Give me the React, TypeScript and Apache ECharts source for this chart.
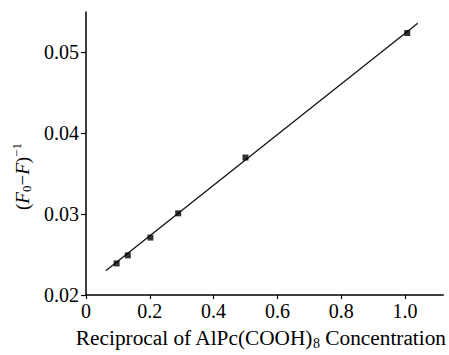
import React, { useEffect, useRef } from "react";
import * as echarts from "echarts";

const xData = [0.096, 0.131, 0.202, 0.289, 0.5, 1.007];
const yData = [0.0239, 0.0249, 0.0271, 0.0301, 0.037, 0.0524];
const fitX = [0.062, 1.04];
const fitY = [0.023, 0.0536];

export default function App() {
  const ref = useRef<HTMLDivElement>(null);
  useEffect(() => {
    const chart = echarts.init(ref.current!, null, { renderer: "svg" });
    const font = "Liberation Serif";
    chart.setOption({
      animation: false,
      grid: { left: 86, top: 12, right: 3, bottom: 52 },
      xAxis: {
        type: "value",
        min: 0,
        max: 1.12,
        interval: 0.2,
        name: "Reciprocal of AlPc(COOH){sub|8} Concentration",
        nameLocation: "middle",
        nameGap: 31,
        nameTextStyle: {
          color: "#000",
          fontFamily: font,
          fontSize: 21.3,
          padding: [0, 8, 0, 0],
          rich: {
            sub: { fontFamily: font, fontSize: 14, color: "#000", padding: [10, 0, 0, 0] },
          },
        },
        axisLine: { lineStyle: { color: "#000", width: 1.5 } },
        axisTick: { length: 4, lineStyle: { color: "#000", width: 1.2 } },
        splitLine: { show: false },
        axisLabel: {
          color: "#000",
          fontFamily: font,
          fontSize: 20,
          margin: 6,
          showMaxLabel: false,
          formatter: (v: number) => (v === 0 ? "0" : v.toFixed(1)),
        },
      },
      yAxis: {
        type: "value",
        min: 0.02,
        max: 0.055,
        interval: 0.01,
        name: "({it|F}{sub|0}−{it|F}){sup|−1}",
        nameLocation: "middle",
        nameRotate: 90,
        nameGap: 50,
        nameTextStyle: {
          color: "#000",
          fontFamily: font,
          fontSize: 19,
          padding: [0, 46, 0, 0],
          rich: {
            it: { fontFamily: font, fontStyle: "italic", fontSize: 19, color: "#000" },
            sub: { fontFamily: font, fontSize: 13, color: "#000", padding: [9, 0, 0, 0] },
            sup: { fontFamily: font, fontSize: 13, color: "#000", padding: [0, 0, 11, 0] },
          },
        },
        axisLine: { show: true, lineStyle: { color: "#000", width: 1.5 } },
        axisTick: { show: true, length: 5, lineStyle: { color: "#000", width: 1.2 } },
        splitLine: { show: false },
        axisLabel: {
          color: "#000",
          fontFamily: font,
          fontSize: 20,
          margin: 7,
          showMaxLabel: false,
          formatter: (v: number) => v.toFixed(2),
        },
      },
      series: [
        {
          type: "line",
          data: fitX.map((x, i) => [x, fitY[i]]),
          showSymbol: false,
          lineStyle: { color: "#111", width: 1.3 },
          z: 2,
        },
        {
          type: "scatter",
          data: xData.map((x, i) => [x, yData[i]]),
          symbol: "rect",
          symbolSize: 6,
          itemStyle: { color: "#000" },
          z: 3,
        },
      ],
    });
    return () => chart.dispose();
  }, []);
  return <div ref={ref} style={{ width: 449, height: 355, position: "absolute", left: 0, top: 0 }} />;
}
